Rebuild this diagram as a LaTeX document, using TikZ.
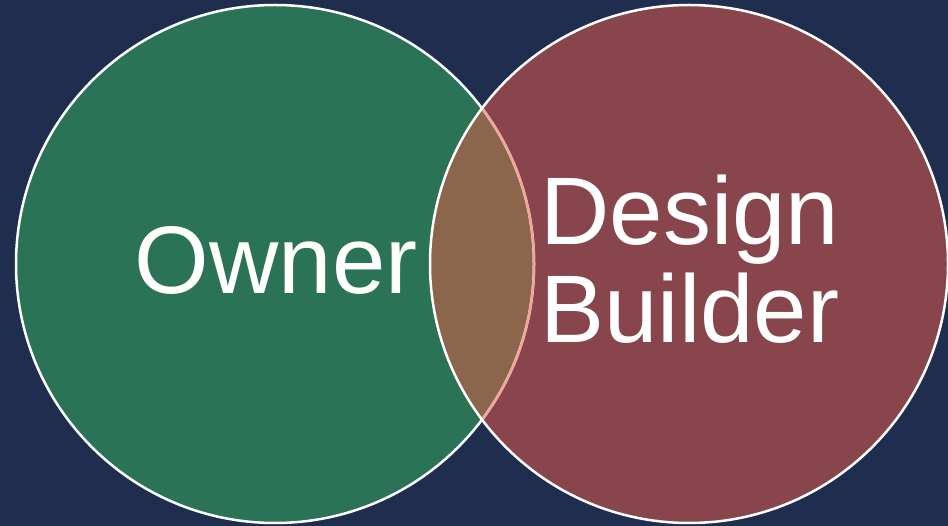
\documentclass[tikz,border=0pt]{standalone}
\usepackage{fontspec}
\setmainfont{Liberation Sans}
\definecolor{bgnavy}{HTML}{1F2D4F}
\definecolor{ownergreen}{HTML}{2B7356}
\definecolor{builderred}{HTML}{88464C}
\definecolor{sharedbrown}{HTML}{8B664C}
\definecolor{edgepink}{HTML}{F2A69A}
\tikzset{
  ring/.style={draw=white, line width=2.5},
  bigword/.style={text=white, font=\fontsize{96}{98}\selectfont, inner sep=0pt}
}

\begin{document}
\begin{tikzpicture}[x=1pt,y=-1pt]
			%%%%% BACKGROUND %%%%%
			\fill[bgnavy] (0, 0) rectangle (948, 526);
			\useasboundingbox (0, 0) rectangle (948, 526);
			
			\coordinate (owner) at (275, 264);
			\coordinate (builder) at (689, 264);
			
			%%%%% DISCS %%%%%
			\fill[ownergreen] (owner) circle (259);
			\fill[builderred] (builder) circle (259);
			\begin{scope}
				\clip (owner) circle (259);
				\fill[sharedbrown] (builder) circle (259);
			\end{scope}
			
			%%%%% OUTLINES %%%%%
			\draw[ring] (owner) circle (259);
			\begin{scope}
				\clip (builder) circle (259);
				\draw[ring, draw=edgepink] (owner) circle (259);
			\end{scope}
			\draw[ring] (builder) circle (259);
			
			%%%%% LABELS %%%%%
			\node[bigword, anchor=base] (ownerlabel) at (276, 294) {Owner};
			\node[bigword, anchor=base] (designlabel) at (690, 245) {Design};
			\node[bigword, anchor=base] (builderlabel) at (690, 343) {Builder};
\end{tikzpicture}
\end{document}
